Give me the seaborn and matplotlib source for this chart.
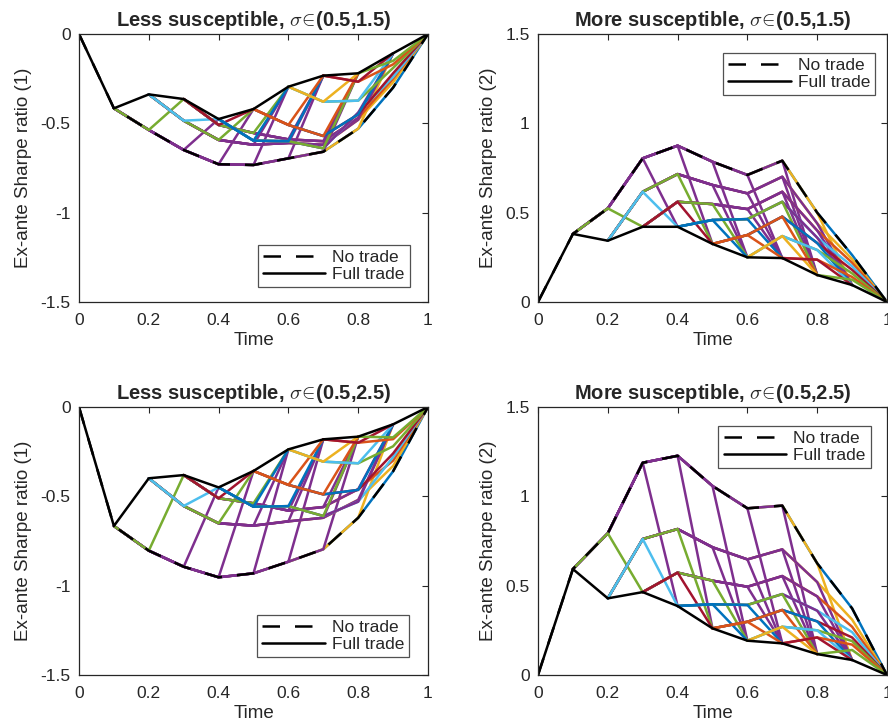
import matplotlib
matplotlib.use("Agg")
import matplotlib.pyplot as plt
import pandas as pd
import seaborn as sns

sns.set_style("white")
plt.rcParams['font.family'] = ['Liberation Sans', 'DejaVu Sans']
plt.rcParams['mathtext.fontset'] = 'cm'
plt.rcParams['axes.unicode_minus'] = False

time = [0.0, 0.1, 0.2, 0.3, 0.4, 0.5, 0.6, 0.7, 0.8, 0.9, 1.0]
xtick_vals = [0, 0.2, 0.4, 0.6, 0.8, 1]
xtick_text = ["0", "0.2", "0.4", "0.6", "0.8", "1"]
ytick_neg = [-1.5, -1, -0.5, 0]
ytick_neg_text = ["-1.5", "-1", "-0.5", "0"]
ytick_pos = [0, 0.5, 1, 1.5]
ytick_pos_text = ["0", "0.5", "1", "1.5"]

# full-trade path per panel
full_less_15 = [0, -0.416, -0.338, -0.364, -0.476, -0.420, -0.295, -0.233, -0.220, -0.108, 0]
full_more_15 = [0, 0.381, 0.343, 0.421, 0.421, 0.325, 0.250, 0.246, 0.151, 0.095, 0]
full_less_25 = [0, -0.666, -0.399, -0.381, -0.450, -0.358, -0.237, -0.181, -0.166, -0.097, 0]
full_more_25 = [0, 0.593, 0.429, 0.464, 0.386, 0.261, 0.192, 0.177, 0.117, 0.084, 0]

# not-trading values after last trade at t=0.1 .. 0.8 (row k: times 0.(k+2) .. 0.9)
# first row is the "No trade" path
nt_less_15 = [
    [-0.537, -0.649, -0.729, -0.733, -0.696, -0.659, -0.53, -0.30],
    [-0.485, -0.593, -0.62, -0.61, -0.62, -0.48, -0.27],
    [-0.509, -0.554, -0.59, -0.60, -0.47, -0.25],
    [-0.597, -0.60, -0.64, -0.44, -0.24],
    [-0.509, -0.571, -0.45, -0.22],
    [-0.379, -0.373, -0.19],
    [-0.267, -0.17],
    [-0.15],
]
nt_more_15 = [
    [0.524, 0.804, 0.875, 0.785, 0.711, 0.791, 0.500, 0.263],
    [0.617, 0.716, 0.655, 0.608, 0.701, 0.44, 0.24],
    [0.561, 0.548, 0.520, 0.617, 0.40, 0.22],
    [0.459, 0.464, 0.561, 0.36, 0.20],
    [0.375, 0.478, 0.33, 0.18],
    [0.369, 0.291, 0.16],
    [0.237, 0.14],
    [0.125],
]
nt_less_25 = [
    [-0.804, -0.894, -0.953, -0.931, -0.866, -0.796, -0.62, -0.36],
    [-0.554, -0.651, -0.664, -0.64, -0.62, -0.52, -0.33],
    [-0.511, -0.539, -0.58, -0.56, -0.46, -0.30],
    [-0.558, -0.555, -0.61, -0.53, -0.28],
    [-0.436, -0.489, -0.464, -0.26],
    [-0.306, -0.315, -0.22],
    [-0.20, -0.18],
    [-0.17],
]
nt_more_25 = [
    [0.793, 1.188, 1.227, 1.058, 0.933, 0.948, 0.625, 0.373],
    [0.761, 0.817, 0.715, 0.647, 0.703, 0.52, 0.31],
    [0.573, 0.528, 0.494, 0.554, 0.44, 0.27],
    [0.396, 0.392, 0.453, 0.36, 0.24],
    [0.298, 0.364, 0.30, 0.21],
    [0.270, 0.25, 0.19],
    [0.21, 0.17],
    [0.14],
]

mat_colors = ['#0072BD', '#D95319', '#EDB120', '#7E2F8E', '#77AC30', '#4DBEEE', '#A2142F']
B, O, Y, P, G, C, RD = range(7)
# colour of the path that resumes trading at R (R = L+2 .. 10), keyed by last trade L
seg_color = {
    1: [G, P, P, P, P, P, Y, B],
    2: [C, G, P, P, P, P, Y],
    3: [RD, G, P, P, P, O],
    4: [B, B, G, P, C],
    5: [O, O, B, RD],
    6: [Y, C, G],
    7: [RD, O],
    8: [G],
}


def lattice_frame(full, lattice):
    rows, order, pal = [], [], {}
    for L, branch in enumerate(lattice, start=1):
        for R in range(10, L + 1, -1):
            name = f"{L}-{R}"
            ys = [full[L]] + branch[:R - L - 1] + [full[R]]
            for t, v in zip(time[L:R + 1], ys):
                rows.append((name, t, v))
            order.append(name)
            pal[name] = mat_colors[seg_color[L][R - L - 2]]
    return pd.DataFrame(rows, columns=["line", "t", "v"]), order, pal


panels = [
    (full_less_15, nt_less_15, r"Less susceptible, $\sigma\!\in\!$(0.5,1.5)", "Ex-ante Sharpe ratio (1)", 'lower right', (0.948, 0.056)),
    (full_more_15, nt_more_15, r"More susceptible, $\sigma\!\in\!$(0.5,1.5)", "Ex-ante Sharpe ratio (2)", 'upper right', (0.966, 0.929)),
    (full_less_25, nt_less_25, r"Less susceptible, $\sigma\!\in\!$(0.5,2.5)", "Ex-ante Sharpe ratio (1)", 'lower right', (0.946, 0.067)),
    (full_more_25, nt_more_25, r"More susceptible, $\sigma\!\in\!$(0.5,2.5)", "Ex-ante Sharpe ratio (2)", 'upper right', (0.953, 0.929)),
]
boxes = [
    [79 / 888, 1 - 302 / 727, 349 / 888, 268 / 727],
    [538 / 888, 1 - 302 / 727, 349 / 888, 268 / 727],
    [79 / 888, 1 - 675 / 727, 349 / 888, 268 / 727],
    [538 / 888, 1 - 675 / 727, 349 / 888, 268 / 727],
]

fig = plt.figure(figsize=(8.88, 7.27), dpi=100)
for (full, lattice, title, ylab, loc, anchor), box in zip(panels, boxes):
    ax = fig.add_axes(box)
    df, order, pal = lattice_frame(full, lattice)
    sns.lineplot(data=df, x="t", y="v", hue="line", hue_order=order, palette=pal,
                 estimator=None, sort=False, legend=False, linewidth=1.8, ax=ax)
    no_trade = [0, full[1]] + lattice[0] + [0]
    sns.lineplot(x=time, y=no_trade, color='k', linewidth=1.8, linestyle=(0, (7, 6)),
                 sort=False, label='No trade', ax=ax)
    sns.lineplot(x=time, y=full, color='k', linewidth=1.8, sort=False, label='Full trade', ax=ax)

    ax.set_xlim(0, 1)
    ax.set_xticks(xtick_vals)
    ax.set_xticklabels(xtick_text)
    if full[4] < 0:
        ax.set_ylim(-1.5, 0)
        ax.set_yticks(ytick_neg)
        ax.set_yticklabels(ytick_neg_text)
    else:
        ax.set_ylim(0, 1.5)
        ax.set_yticks(ytick_pos)
        ax.set_yticklabels(ytick_pos_text)
    ax.tick_params(direction='in', top=True, right=True, length=4, width=0.8,
                   labelsize=12.5, colors='#262626', pad=6)
    ax.tick_params(axis='x', pad=8)
    for s in ax.spines.values():
        s.set_color('#262626')
        s.set_linewidth(0.9)
    ax.set_xlabel("Time", fontsize=13.5, labelpad=3)
    ax.set_ylabel(ylab, fontsize=13.5, labelpad=6)
    ax.set_title(title, fontsize=14.5, fontweight='bold', pad=6)
    leg = ax.legend(loc=loc, bbox_to_anchor=anchor, borderaxespad=0, fontsize=12.5,
                    frameon=True, fancybox=False, edgecolor='#262626', handlelength=3.6,
                    handletextpad=0.4, borderpad=0.3, labelspacing=0.1)
    leg.get_frame().set_linewidth(0.9)

fig.savefig("out.png", dpi=100)
